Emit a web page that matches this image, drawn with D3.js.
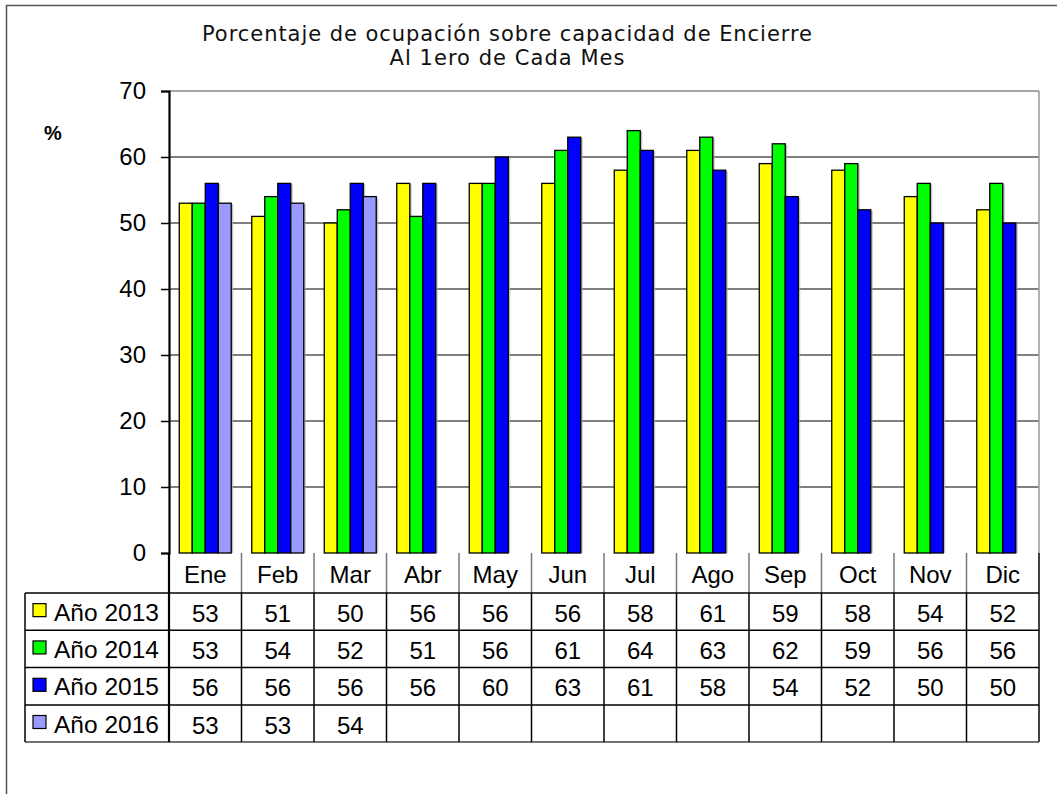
<!DOCTYPE html>
<html><head><meta charset="utf-8">
<script src="https://cdn.jsdelivr.net/npm/d3@7"></script>
<style>html,body{margin:0;padding:0;background:#fff;}svg{display:block;}</style>
</head><body>
<svg id="c" width="1057" height="794"></svg>
<script>
const months = ["Ene","Feb","Mar","Abr","May","Jun","Jul","Ago","Sep","Oct","Nov","Dic"];
const seriesNames = ["Año 2013","Año 2014","Año 2015","Año 2016"];
const seriesColors = ["#FFFF00","#00FF00","#0000FF","#9999FF"];
const v2013 = [53,51,50,56,56,56,58,61,59,58,54,52];
const v2014 = [53,54,52,51,56,61,64,63,62,59,56,56];
const v2015 = [56,56,56,56,60,63,61,58,54,52,50,50];
const v2016 = [53,53,54,null,null,null,null,null,null,null,null,null];
const yTicks = [0,10,20,30,40,50,60,70];
const titleLines = ["Porcentaje de ocupación sobre capacidad de Encierre","Al 1ero de Cada Mes"];
const yLabel = "%";

const seriesValues = [v2013,v2014,v2015,v2016];
const svg = d3.select("#c");
const L = 169, R = 1039, T = 91, B = 553;
const font = "'Liberation Sans', Arial, sans-serif";

// outer border
svg.append("rect").attr("x",6.5).attr("y",5.5).attr("width",1070).attr("height",800)
  .attr("fill","none").attr("stroke","#555").attr("stroke-width",1.5);

// title
const tw = [610, 235];
titleLines.forEach((t,i)=>{
  svg.append("text").attr("x",507).attr("y",41+i*24).attr("text-anchor","middle")
    .attr("font-family","'DejaVu Sans', Verdana, sans-serif").attr("font-size",21)
    .attr("textLength",tw[i]).attr("lengthAdjust","spacing")
    .attr("fill","#111").text(t);
});

const x = d3.scaleBand().domain(months).range([L,R]).paddingInner(0.283).paddingOuter(0.1415);
const xs = d3.scaleBand().domain(d3.range(seriesNames.length)).range([0,x.bandwidth()]);
const y = d3.scaleLinear().domain([0,70]).range([B,T]);

// gridlines
svg.append("g").selectAll("line").data(yTicks.filter(d=>d>0&&d<70)).join("line")
  .attr("x1",L).attr("x2",R).attr("y1",d=>y(d)).attr("y2",d=>y(d))
  .attr("stroke","#555").attr("stroke-width",1.5);
// top & right plot border
svg.append("line").attr("x1",L).attr("x2",R).attr("y1",y(70)).attr("y2",y(70)).attr("stroke","#888").attr("stroke-width",1.5);
svg.append("line").attr("x1",R).attr("x2",R).attr("y1",T).attr("y2",B).attr("stroke","#999").attr("stroke-width",1.5);

// bars
const bars = [];
seriesValues.forEach((vals,si)=>vals.forEach((v,mi)=>{ if(v!=null) bars.push({si,mi,v}); }));
const g = svg.append("g");
g.selectAll("rect.sh").data(bars).join("rect").attr("class","sh")
  .attr("x",d=>x(months[d.mi])+xs(d.si)+2).attr("y",d=>y(d.v)+1)
  .attr("width",xs.bandwidth()).attr("height",d=>B-y(d.v)-1)
  .attr("fill","#aaa").attr("opacity",0.7);
g.selectAll("rect.b").data(bars).join("rect").attr("class","b")
  .attr("x",d=>x(months[d.mi])+xs(d.si)).attr("y",d=>y(d.v))
  .attr("width",xs.bandwidth()).attr("height",d=>B-y(d.v))
  .attr("fill",d=>seriesColors[d.si]).attr("stroke","#000").attr("stroke-width",1.3);

// y axis
const ya = d3.axisLeft(y).tickValues(yTicks).tickSize(8).tickPadding(15);
const yg = svg.append("g").attr("transform",`translate(${L},0)`).call(ya);
yg.select(".domain").attr("stroke","#000").attr("stroke-width",2.2);
yg.selectAll(".tick line").attr("stroke","#000").attr("stroke-width",1.5);
yg.selectAll(".tick text").attr("font-family",font).attr("font-size",24).attr("fill","#000");

svg.append("text").attr("x",44).attr("y",140).attr("font-family",font).attr("font-weight","bold")
  .attr("font-size",20).text(yLabel);

// data table
const rowY = [553,593,630.3,667.6,705,742];
const tableL = 25;
const tg = svg.append("g");
// header row verticals
months.forEach((m,i)=>{
  const cx = x(m) - x.step()*x.paddingInner()/2;
  tg.append("line").attr("x1",cx).attr("x2",cx).attr("y1",B).attr("y2",rowY[1])
    .attr("stroke",i===0?"#000":"#777").attr("stroke-width",i===0?2.2:1.5);
});
tg.append("line").attr("x1",R).attr("x2",R).attr("y1",B).attr("y2",rowY[5]).attr("stroke","#000").attr("stroke-width",1.5);
// horizontal lines
for(let r=1;r<=5;r++){
  tg.append("line").attr("x1",tableL).attr("x2",R).attr("y1",rowY[r]).attr("y2",rowY[r])
    .attr("stroke",r===5?"#444":"#000").attr("stroke-width",1.5);
}
// verticals in data rows
months.forEach((m,i)=>{
  const cx = x(m) - x.step()*x.paddingInner()/2;
  tg.append("line").attr("x1",cx).attr("x2",cx).attr("y1",rowY[1]).attr("y2",rowY[5])
    .attr("stroke","#000").attr("stroke-width",i===0?2.2:1.5);
});
tg.append("line").attr("x1",tableL).attr("x2",tableL).attr("y1",rowY[1]).attr("y2",rowY[5]).attr("stroke","#000").attr("stroke-width",1.5);

// header labels
tg.selectAll("text.h").data(months).join("text").attr("class","h")
  .attr("x",d=>x(d)+x.bandwidth()/2).attr("y",583).attr("text-anchor","middle")
  .attr("font-family",font).attr("font-size",24).text(d=>d);

// rows
seriesNames.forEach((s,si)=>{
  const cy = (rowY[si+1]+rowY[si+2])/2;
  tg.append("rect").attr("x",33).attr("y",cy-8).attr("width",13).attr("height",13)
    .attr("fill",seriesColors[si]).attr("stroke","#000").attr("stroke-width",1.2);
  tg.append("text").attr("x",54).attr("y",cy+9).attr("font-family",font).attr("font-size",24.5).text(s);
  seriesValues[si].forEach((v,mi)=>{
    if(v==null) return;
    tg.append("text").attr("x",x(months[mi])+x.bandwidth()/2).attr("y",cy+10).attr("text-anchor","middle")
      .attr("font-family",font).attr("font-size",24).text(v);
  });
});
</script>
</body></html>
